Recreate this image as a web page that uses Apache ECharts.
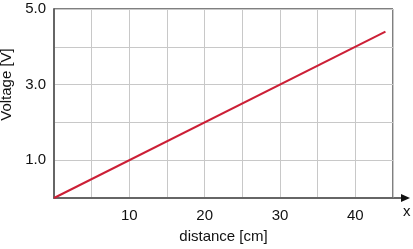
<!DOCTYPE html>
<html>
<head>
<meta charset="utf-8">
<script src="https://cdn.jsdelivr.net/npm/echarts@6/dist/echarts.min.js"></script>
<style>
  html, body { margin: 0; padding: 0; background: #fff; }
  #chart { width: 413px; height: 249px; }
</style>
</head>
<body>
<div id="chart"></div>
<script>
// distance [cm] vs voltage [V]
var distance = [0, 44];
var voltage = [0, 4.4];
var xTicks = [10, 20, 30, 40];
var yTicks = [1, 3, 5];

var pts = [];
for (var i = 0; i < distance.length; i++) {
  pts.push([distance[i], voltage[i]]);
}

var font = 'Liberation Sans, Arial, sans-serif';
var ec = echarts.init(document.getElementById('chart'));
ec.setOption({
  animation: false,
  grid: {
    left: 54, right: 20, top: 9, bottom: 51,
    outerBoundsMode: 'none',
    containLabel: false,
    show: true,
    borderColor: '#000',
    borderWidth: 1
  },
  xAxis: {
    type: 'value',
    min: 0, max: 45, interval: 5,
    name: 'distance [cm]',
    nameLocation: 'middle',
    nameGap: 31,
    nameTextStyle: { color: '#111', fontSize: 15, fontFamily: font },
    axisLine: { lineStyle: { color: '#666', width: 2 } },
    axisTick: { show: false },
    axisLabel: {
      color: '#111', fontSize: 15, fontFamily: font, margin: 10,
      formatter: function (v) { return xTicks.indexOf(v) >= 0 ? String(v) : ''; }
    },
    splitLine: { show: true, lineStyle: { color: '#c8c8c8', width: 1 } }
  },
  yAxis: {
    type: 'value',
    min: 0, max: 5, interval: 1,
    name: 'Voltage [V]',
    nameLocation: 'middle',
    nameRotate: 90,
    nameGap: 38,
    nameTextStyle: { color: '#111', fontSize: 15, fontFamily: font, padding: [0, 0, 0, 38] },
    axisLine: { show: true, lineStyle: { color: '#666', width: 2 } },
    axisTick: { show: false },
    axisLabel: {
      color: '#111', fontSize: 15, fontFamily: font, margin: 8,
      formatter: function (v) { return yTicks.indexOf(v) >= 0 ? v.toFixed(1) : ''; }
    },
    splitLine: { show: true, lineStyle: { color: '#c8c8c8', width: 1 } }
  },
  graphic: [
    // axis arrow extension and "x" label
    { type: 'line', shape: { x1: 393, y1: 198, x2: 402, y2: 198 }, style: { stroke: '#666', lineWidth: 2 } },
    { type: 'polygon', shape: { points: [[410, 198], [401, 194], [401, 202]] }, style: { fill: '#111' } },
    { type: 'text', left: 403, top: 204, style: { text: 'x', fill: '#111', fontSize: 15, fontFamily: font } }
  ],
  series: [{
    type: 'line',
    data: pts,
    symbol: 'none',
    lineStyle: { color: '#cc1f36', width: 2 }
  }]
});
</script>
</body>
</html>
